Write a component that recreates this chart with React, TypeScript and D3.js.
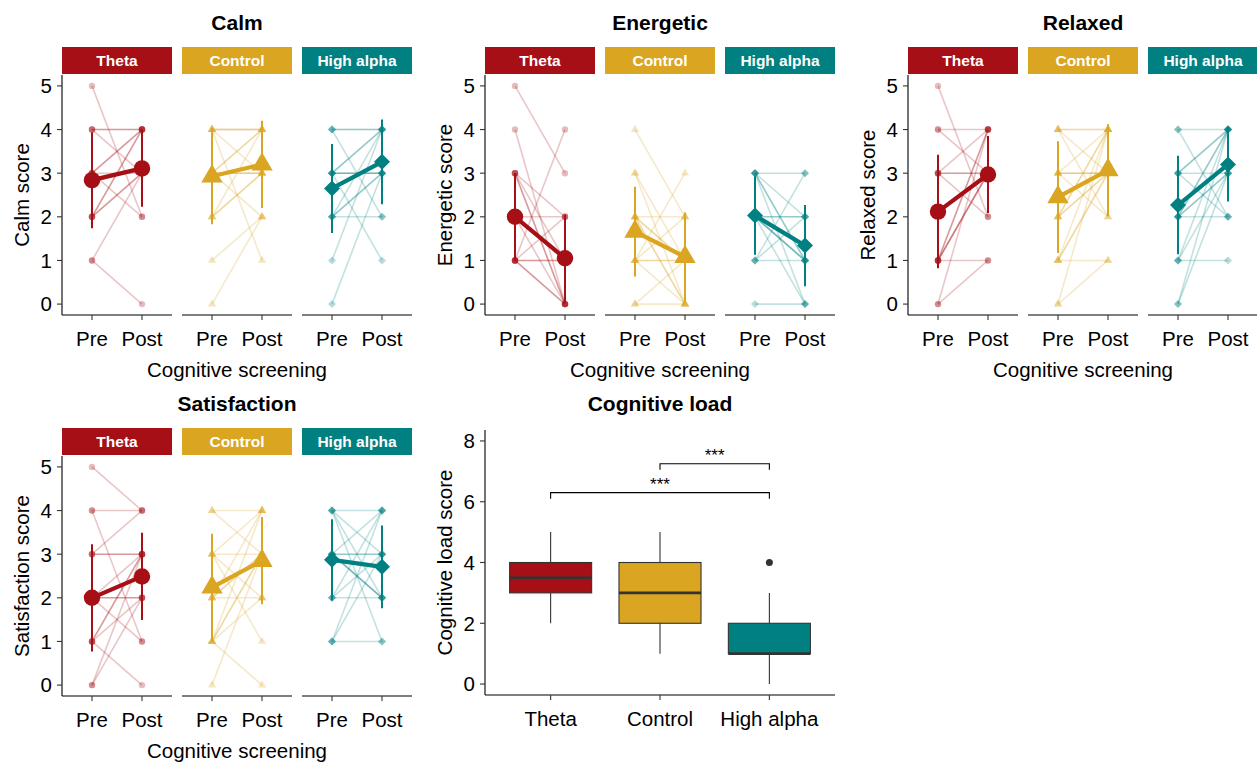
import React from "react";
import * as d3 from "d3";

const groups = ["Theta", "Control", "High alpha"];
const groupColors = ["#A50F15", "#DAA520", "#008080"];
const times = ["Pre", "Post"];
const scoreTicks = [0, 1, 2, 3, 4, 5];

// Individual participants: [pre, post]
const calmTheta = [[5,2],[4,4],[4,4],[4,3],[3,4],[3,4],[3,3],[3,2],[2,4],[2,3],[2,3],[2,4],[1,3],[1,0]];
const calmControl = [[4,4],[4,4],[4,4],[4,3],[4,1],[3,4],[3,4],[3,3],[3,3],[3,2],[3,3],[2,4],[2,3],[2,3],[1,2],[0,2]];
const calmHigh = [[4,4],[4,2],[4,4],[3,4],[3,4],[3,3],[3,3],[3,1],[3,3],[2,4],[2,3],[2,3],[2,2],[1,4],[0,3]];

const energeticTheta = [[5,3],[4,0],[3,0],[3,0],[3,1],[3,2],[2,1],[2,1],[2,2],[2,0],[1,1],[1,1],[1,0],[1,0],[1,4],[1,2]];
const energeticControl = [[4,2],[3,1],[3,0],[2,2],[2,1],[2,1],[2,0],[2,0],[1,3],[1,1],[1,1],[1,0],[1,2],[0,1],[0,0]];
const energeticHigh = [[3,3],[3,1],[3,0],[3,1],[3,2],[2,2],[2,1],[2,1],[2,1],[2,0],[1,3],[1,1],[1,2],[0,0],[2,2]];

const relaxedTheta = [[5,2],[4,4],[4,3],[3,3],[3,2],[3,4],[1,1],[1,4],[1,3],[1,3],[1,3],[0,1],[0,4],[3,3],[1,4]];
const relaxedControl = [[4,4],[4,2],[3,3],[3,3],[3,4],[3,2],[2,4],[2,3],[2,4],[2,3],[1,1],[1,4],[1,3],[1,3],[0,1],[0,4],[4,4],[3,3],[4,3]];
const relaxedHigh = [[4,4],[4,2],[3,3],[3,4],[3,4],[3,2],[2,4],[2,3],[2,3],[2,2],[2,4],[1,1],[1,4],[1,3],[0,4],[0,3]];

const satisfactionTheta = [[5,4],[4,4],[4,1],[3,3],[3,3],[3,4],[2,2],[2,2],[2,1],[1,3],[1,2],[1,0],[0,3],[0,2],[1,3],[2,3]];
const satisfactionControl = [[4,4],[4,3],[3,3],[3,2],[3,1],[2,2],[2,4],[2,3],[1,4],[1,3],[1,3],[1,2],[1,0],[0,3],[3,4],[2,3]];
const satisfactionHigh = [[4,4],[4,3],[4,2],[4,1],[3,3],[3,4],[3,2],[3,3],[3,2],[2,4],[2,2],[2,3],[1,1],[1,4],[1,3],[3,2]];

// Group means [pre, post] and error half-widths [pre, post]
const calmMeans = [[2.84, 3.11], [2.93, 3.2], [2.65, 3.26]];
const calmErr = [[1.1, 0.88], [1.1, 1.0], [1.02, 0.97]];
const energeticMeans = [[2.0, 1.05], [1.66, 1.08], [2.03, 1.34]];
const energeticErr = [[1.0, 1.0], [1.03, 1.02], [0.9, 0.93]];
const relaxedMeans = [[2.12, 2.97], [2.45, 3.07], [2.27, 3.2]];
const relaxedErr = [[1.3, 0.88], [1.28, 1.05], [1.13, 0.85]];
const satisfactionMeans = [[2.0, 2.49], [2.24, 2.85], [2.87, 2.71]];
const satisfactionErr = [[1.23, 1.0], [1.23, 1.0], [0.93, 0.95]];

// Cognitive load boxplot stats
const boxLow = [2, 1, 0];
const boxQ1 = [3, 2, 1];
const boxMedian = [3.5, 3, 1];
const boxQ3 = [4, 4, 2];
const boxHigh = [5, 5, 3];
const boxOutliers = [[], [], [4]];
const loadTicks = [0, 2, 4, 6, 8];
const brackets = [
  { from: "Theta", to: "High alpha", level: 6.3, label: "***" },
  { from: "Control", to: "High alpha", level: 7.25, label: "***" },
];

const FONT = "'Liberation Sans', Arial, Helvetica, sans-serif";
const AXIS_FS = 20.5;

function shapePath(gi: number, size: number): string {
  if (gi === 0) return d3.symbol().type(d3.symbolCircle).size(Math.PI * size * size)()!;
  if (gi === 1) {
    const side = size * 2.6;
    return d3.symbol().type(d3.symbolTriangle).size((Math.sqrt(3) / 4) * side * side)()!;
  }
  const r = size;
  return `M0,${-r}L${r},0L0,${r}L${-r},0Z`;
}

function ScorePanel({ title, yLabel, data, means, errs, x0, top }: any) {
  const plotTop = top + 28;
  const plotH = 240;
  const plotBottom = plotTop + plotH;
  const subW = 110;
  const gap = 10;
  const totalW = 3 * subW + 2 * gap;
  const y = d3.scaleLinear().domain([-0.25, 5.25]).range([plotBottom, plotTop]);
  return (
    <g>
      <text x={x0 + totalW / 2} y={top - 17} textAnchor="middle" fontWeight="bold" fontSize={21}>{title}</text>
      <line x1={x0} x2={x0} y1={plotTop} y2={plotBottom} stroke="#000" strokeWidth={1.1} />
      {scoreTicks.map((t) => (
        <g key={t}>
          <line x1={x0 - 5} x2={x0} y1={y(t)} y2={y(t)} stroke="#333" strokeWidth={1.1} />
          <text x={x0 - 10} y={y(t)} dy="0.36em" textAnchor="end" fontSize={AXIS_FS}>{t}</text>
        </g>
      ))}
      <text transform={`translate(${x0 - 33},${(plotTop + plotBottom) / 2}) rotate(-90)`} textAnchor="middle" fontSize={AXIS_FS}>{yLabel}</text>
      {groups.map((g, gi) => {
        const sx = x0 + gi * (subW + gap);
        const x = d3.scalePoint<string>().domain(times).range([sx, sx + subW]).padding(0.6);
        const col = groupColors[gi];
        const pairs: number[][] = data[gi];
        const m = means[gi];
        const e = errs[gi];
        return (
          <g key={g}>
            <rect x={sx} y={top} width={subW} height={27} fill={col} />
            <text x={sx + subW / 2} y={top + 13.5} dy="0.36em" textAnchor="middle" fill="#fff" fontWeight="bold" fontSize={15.5}>{g}</text>
            <line x1={sx} x2={sx + subW} y1={plotBottom} y2={plotBottom} stroke="#000" strokeWidth={1.1} />
            {times.map((t) => (
              <g key={t}>
                <line x1={x(t)!} x2={x(t)!} y1={plotBottom} y2={plotBottom + 5} stroke="#333" strokeWidth={1.1} />
                <text x={x(t)!} y={plotBottom + 31} textAnchor="middle" fontSize={AXIS_FS}>{t}</text>
              </g>
            ))}
            {pairs.map((p, i) => (
              <line key={"l" + i} x1={x("Pre")!} x2={x("Post")!} y1={y(p[0])} y2={y(p[1])} stroke={col} strokeOpacity={0.24} strokeWidth={1.6} />
            ))}
            {pairs.map((p, i) => (
              <g key={"p" + i}>
                <path d={shapePath(gi, gi === 2 ? 4 : 3.2)} transform={`translate(${x("Pre")},${y(p[0])})`} fill={col} fillOpacity={0.28} />
                <path d={shapePath(gi, gi === 2 ? 4 : 3.2)} transform={`translate(${x("Post")},${y(p[1])})`} fill={col} fillOpacity={0.28} />
              </g>
            ))}
            {times.map((t, ti) => (
              <line key={"e" + t} x1={x(t)!} x2={x(t)!} y1={y(m[ti] - e[ti])} y2={y(m[ti] + e[ti])} stroke={col} strokeWidth={2} />
            ))}
            <line x1={x("Pre")!} x2={x("Post")!} y1={y(m[0])} y2={y(m[1])} stroke={col} strokeWidth={4.2} />
            {times.map((t, ti) => (
              <path key={"m" + t} d={shapePath(gi, gi === 2 ? 8 : 8.2)} transform={`translate(${x(t)},${y(m[ti])})`} fill={col} />
            ))}
          </g>
        );
      })}
      <text x={x0 + totalW / 2} y={plotBottom + 62} textAnchor="middle" fontSize={AXIS_FS}>Cognitive screening</text>
    </g>
  );
}

function BoxPanel({ x0, x1, top, bottom }: any) {
  const y = d3.scaleLinear().domain([-0.36, 8.36]).range([bottom, top]);
  const x = d3.scalePoint<string>().domain(groups).range([x0, x1]).padding(0.6);
  const bw = x.step() * 0.75;
  return (
    <g>
      <text x={(x0 + x1) / 2} y={top - 19} textAnchor="middle" fontWeight="bold" fontSize={21}>Cognitive load</text>
      <line x1={x0} x2={x0} y1={top} y2={bottom} stroke="#000" strokeWidth={1.1} />
      <line x1={x0} x2={x1} y1={bottom} y2={bottom} stroke="#000" strokeWidth={1.1} />
      {loadTicks.map((t) => (
        <g key={t}>
          <line x1={x0 - 5} x2={x0} y1={y(t)} y2={y(t)} stroke="#333" strokeWidth={1.1} />
          <text x={x0 - 10} y={y(t)} dy="0.36em" textAnchor="end" fontSize={AXIS_FS}>{t}</text>
        </g>
      ))}
      <text transform={`translate(${x0 - 33},${(top + bottom) / 2}) rotate(-90)`} textAnchor="middle" fontSize={AXIS_FS}>Cognitive load score</text>
      {groups.map((g, gi) => {
        const cx = x(g)!;
        return (
          <g key={g}>
            <line x1={cx} x2={cx} y1={bottom} y2={bottom + 5} stroke="#333" strokeWidth={1.1} />
            <text x={cx} y={bottom + 31} textAnchor="middle" fontSize={AXIS_FS}>{g}</text>
            <line x1={cx} x2={cx} y1={y(boxLow[gi])} y2={y(boxQ1[gi])} stroke="#333" strokeWidth={1.1} />
            <line x1={cx} x2={cx} y1={y(boxQ3[gi])} y2={y(boxHigh[gi])} stroke="#333" strokeWidth={1.1} />
            <rect x={cx - bw / 2} y={y(boxQ3[gi])} width={bw} height={y(boxQ1[gi]) - y(boxQ3[gi])} fill={groupColors[gi]} stroke="#333" strokeWidth={1.1} />
            <line x1={cx - bw / 2} x2={cx + bw / 2} y1={y(boxMedian[gi])} y2={y(boxMedian[gi])} stroke="#333" strokeWidth={2.6} />
            {boxOutliers[gi].map((o, i) => (
              <circle key={i} cx={cx} cy={y(o)} r={3.5} fill="#333" />
            ))}
          </g>
        );
      })}
      {brackets.map((b, i) => {
        const xa = x(b.from)!;
        const xb = x(b.to)!;
        const yl = y(b.level);
        const yt = y(b.level - 0.2);
        return (
          <g key={i}>
            <path d={`M${xa},${yt}L${xa},${yl}L${xb},${yl}L${xb},${yt}`} fill="none" stroke="#000" strokeWidth={1.1} />
            <text x={(xa + xb) / 2} y={yl - 3} textAnchor="middle" fontSize={17}>{b.label}</text>
          </g>
        );
      })}
    </g>
  );
}

export default function App() {
  return (
    <svg width={1257} height={764} style={{ position: "absolute", left: 0, top: 0, background: "#fff" }} fontFamily={FONT}>
      <rect width={1257} height={764} fill="#fff" />
      <ScorePanel title="Calm" yLabel="Calm score" data={[calmTheta, calmControl, calmHigh]} means={calmMeans} errs={calmErr} x0={62} top={47} />
      <ScorePanel title="Energetic" yLabel="Energetic score" data={[energeticTheta, energeticControl, energeticHigh]} means={energeticMeans} errs={energeticErr} x0={485} top={47} />
      <ScorePanel title="Relaxed" yLabel="Relaxed score" data={[relaxedTheta, relaxedControl, relaxedHigh]} means={relaxedMeans} errs={relaxedErr} x0={908} top={47} />
      <ScorePanel title="Satisfaction" yLabel="Satisfaction score" data={[satisfactionTheta, satisfactionControl, satisfactionHigh]} means={satisfactionMeans} errs={satisfactionErr} x0={62} top={428} />
      <BoxPanel x0={485} x1={835} top={430} bottom={695} />
    </svg>
  );
}
